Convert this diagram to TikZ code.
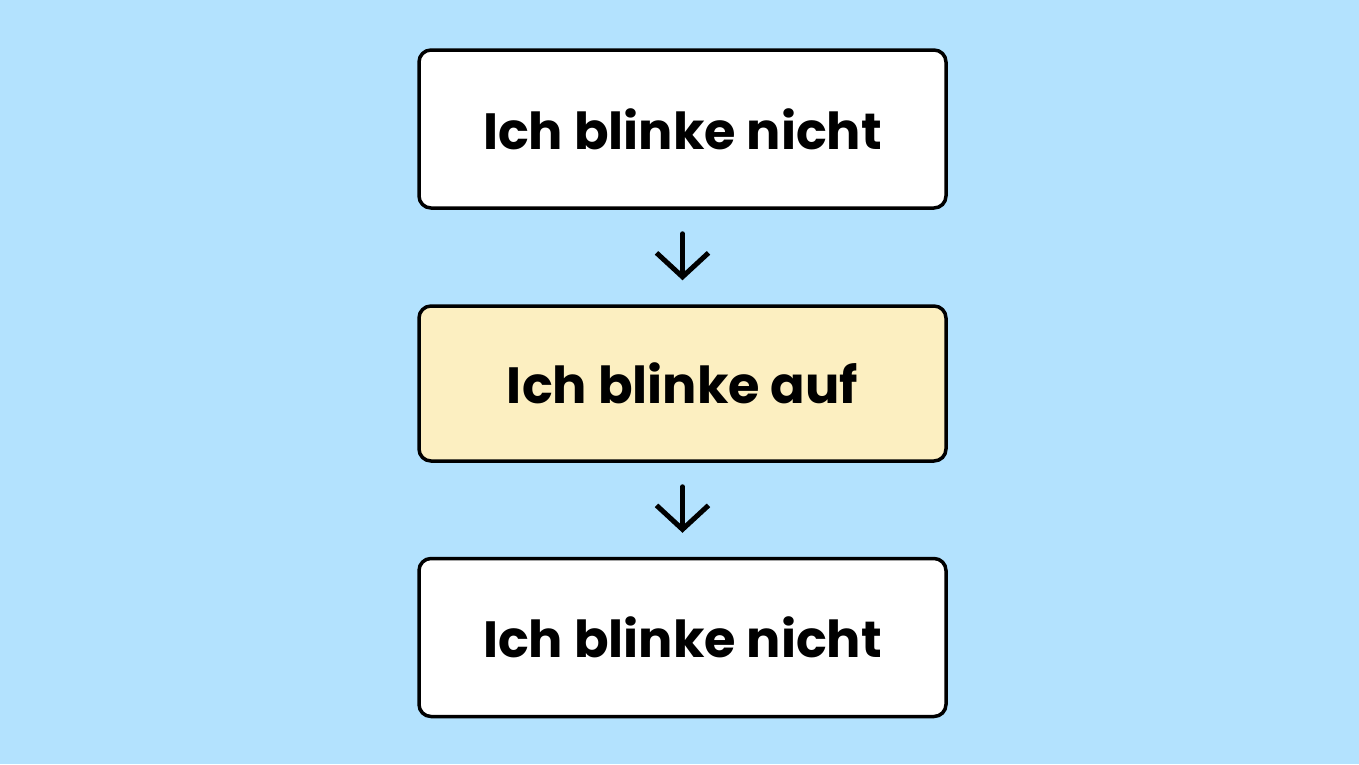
\documentclass[tikz,border=0pt]{standalone}
\usepackage{fontspec}
\setmainfont{Poppins}
\usetikzlibrary{positioning,arrows.meta}
\definecolor{skyblue}{HTML}{B3E2FE}
\definecolor{paleyellow}{HTML}{FCEFC1}
\tikzset{
  statebox/.style={draw=black, line width=0.035cm, rounded corners=0.12cm, fill=white,
    minimum width=5.27cm, minimum height=1.58cm, font=\fontsize{14.5}{17}\selectfont\bfseries},
  flow/.style={line width=0.05cm, line cap=round, shorten >=0.24cm, shorten <=0.24cm,
    -{Straight Barb[length=0.24cm, width=0.52cm, line width=0.05cm]}}
}
\begin{document}
\begin{tikzpicture}
  \fill[skyblue] (0,0) rectangle (13.59,7.64);
  \useasboundingbox (0,0) rectangle (13.59,7.64);
  \node[statebox] (off1) at (6.825,6.35) {Ich blinke nicht};
  \node[statebox, fill=paleyellow, minimum height=1.55cm] (on) at (6.825,3.805) {Ich blinke auf};
  \node[statebox] (off2) at (6.825,1.265) {Ich blinke nicht};
  \draw[flow] (off1) -- (on);
  \draw[flow] (on) -- (off2);
\end{tikzpicture}
\end{document}
